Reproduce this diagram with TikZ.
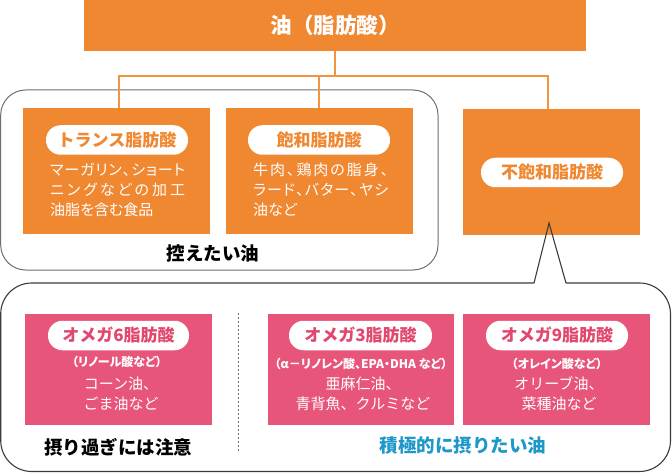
\documentclass[tikz,border=0pt]{standalone}
\usepackage{fontspec}
\setmainfont{Noto Sans CJK JP}
\newfontfamily\jpp{Noto Sans CJK JP}[RawFeature=+palt]
\makeatletter
\def\spr#1{\spr@a#1\@nil}
\def\spr@a#1#2\@nil{#1\ifx\relax#2\relax\else\hfil\spr@a#2\@nil\fi}
\makeatother
\newcommand\jline[1]{\makebox[135pt][s]{\spr{#1}}}
\definecolor{org}{HTML}{F08731}
\definecolor{orgline}{HTML}{F29442}
\definecolor{pnk}{HTML}{E8557A}
\definecolor{pnktxt}{HTML}{E2486E}
\definecolor{blu}{HTML}{1E98C8}
\definecolor{upgray}{HTML}{6E6E6E}
\definecolor{lowgray}{HTML}{3A3A3A}
\begin{document}
\begin{tikzpicture}[x=1pt,y=-1pt,
  obox/.style={fill=org, draw=none, inner sep=0, minimum width=187pt, minimum height=126pt},
  pbox/.style={fill=pnk, draw=none, inner sep=0, minimum width=187pt, minimum height=111pt},
  pill/.style={fill=white, rounded corners=14.5pt, minimum width=142pt, minimum height=29.5pt, inner sep=0, font=\bfseries\fontsize{17}{17}\selectfont},
  opill/.style={pill, text=org},
  ppill/.style={pill, text=pnktxt},
  body/.style={text=white, inner sep=0, font=\jpp\fontsize{15}{20}\selectfont},
  pbody/.style={text=white, inner sep=0, align=center, font=\fontsize{15}{20}\selectfont},
  subt/.style={text=white, inner sep=0, font=\jpp\bfseries\fontsize{12}{12}\selectfont},
  capt/.style={inner sep=0, font=\bfseries\fontsize{18.5}{20}\selectfont},
  conn/.style={draw=orgline, line width=1.8pt},
  upframe/.style={draw=upgray, line width=1pt, rounded corners=25pt},
  lowframe/.style={draw=lowgray, line width=1.1pt, line join=miter}
]
\useasboundingbox (0,0) rectangle (672,473);

% top box
\node[fill=org, inner sep=0, minimum width=502pt, minimum height=51pt,
      text=white, font=\bfseries\fontsize{21.5}{22}\selectfont] (top) at (335,25.5) {油（脂肪酸）};

% upper frame
\draw[upframe] (0.7,90) rectangle (438,270);

% orange boxes
\node[obox] (trans) at (116.5,171) {};
\node[obox] (sat) at (319.5,171) {};
\node[obox, minimum width=177pt] (unsat) at (551.5,172) {};

% connectors
\draw[conn] (top.south) -- (335,76) coordinate (j);
\draw[conn] (trans.north -| 119,0) |- (j) -| (unsat.north -| 548,0);
\draw[conn] (sat.north -| 319,0) -- (319,76);

% pills in orange boxes
\node[opill] (transpill) at (117,140) {トランス脂肪酸};
\node[opill] (satpill) at (319,140) {飽和脂肪酸};
\node[opill] (unsatpill) at (552,172.5) {不飽和脂肪酸};

\node[body, anchor=west, align=left] (transtxt) at (50,190) {\jline{マーガリン、ショート}\\\jline{ニングなどの加工}\\油脂を含む食品};
\node[body, anchor=west, align=left] (sattxt) at (253,190) {\jline{牛肉、鶏肉の脂身、}\\\jline{ラード、バター、ヤシ}\\油など};

\node[capt] (cap1) at (213,253) {控えたい油};

% lower frame with pointer
\coordinate (nl) at (534,283);
\coordinate (nr) at (566,283);
\coordinate (apex) at (549,223);
\draw[lowframe, rounded corners=31pt] (nl) -- (0.7,283) -- (0.7,471.5) -- (670.5,471.5) -- (670.5,283) -- (nr);
\draw[lowframe] (nl) -- (apex) -- (nr);

% dashed divider
\coordinate (d1) at (238,313);
\coordinate (d2) at (238,451);
\draw[upgray, line width=0.8pt, dash pattern=on 2.2pt off 1.8pt] (d1) -- (d2);

% pink boxes
\node[pbox] (o6) at (118.5,369.5) {};
\node[pbox, minimum width=186pt] (o3) at (361,369.5) {};
\node[pbox] (o9) at (556.5,369.5) {};

\node[ppill, minimum width=141pt] (o6pill) at (118.5,335.5) {オメガ6脂肪酸};
\node[ppill, minimum width=143pt] (o3pill) at (360.5,335.5) {オメガ3脂肪酸};
\node[ppill] (o9pill) at (557,335.5) {オメガ9脂肪酸};

\node[subt] (o6sub) at (117,362) {（リノール酸など）};
\node[subt] (o3sub) at (361,364) {（α－リノレン酸、EPA・DHA など）};
\node[subt] (o9sub) at (557,364) {（オレイン酸など）};

\node[pbody] (o6txt) at (121,394) {コーン油、\\ごま油など};
\node[pbody] (o3txt) at (363,394) {亜麻仁油、\\青背魚、クルミなど};
\node[pbody] (o9txt) at (559,394) {オリーブ油、\\菜種油など};

\node[capt] (cap2) at (118,447) {摂り過ぎには注意};
\node[capt, text=blu] (cap3) at (463,446) {積極的に摂りたい油};
\end{tikzpicture}
\end{document}
